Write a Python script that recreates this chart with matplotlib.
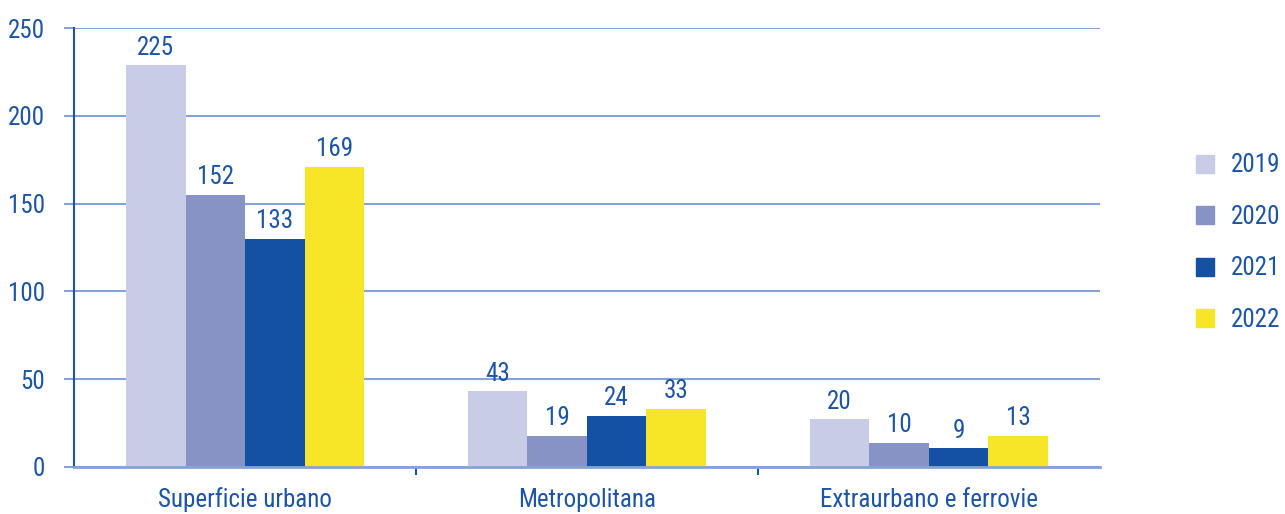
import matplotlib.pyplot as plt
import numpy as np
from matplotlib.patches import Patch

categories = ["Superficie urbano", "Metropolitana", "Extraurbano e ferrovie"]
years = ["2019", "2020", "2021", "2022"]
# bar heights as drawn in the picture
heights_2019 = [229, 43, 27]
heights_2020 = [155, 17.5, 13.5]
heights_2021 = [130, 29, 10.5]
heights_2022 = [171, 33, 17.5]
# numbers printed above the bars
labels_2019 = ["225", "43", "20"]
labels_2020 = ["152", "19", "10"]
labels_2021 = ["133", "24", "9"]
labels_2022 = ["169", "33", "13"]
yticks = [0, 50, 100, 150, 200, 250]

colors = ["#c8cce6", "#8793c5", "#1450a3", "#f7e627"]
text_col = "#1c54a6"
grid_col = "#85a4d6"

plt.rcParams['font.family'] = ['Roboto Condensed', 'DejaVu Sans']
plt.rcParams['font.stretch'] = 'condensed'
fs = 18

fig = plt.figure(figsize=(12.85, 5.14), dpi=100)
ax = fig.add_axes([0.0576, 0.092, 0.856 - 0.0576, 0.945 - 0.092])

heights = [heights_2019, heights_2020, heights_2021, heights_2022]
labels = [labels_2019, labels_2020, labels_2021, labels_2022]
x = np.arange(len(categories))
w = 0.174
for i in range(4):
    pos = x + (i - 1.5) * w
    ax.bar(pos, heights[i], width=w, color=colors[i], zorder=3, label=years[i])
    for p, h, t in zip(pos, heights[i], labels[i]):
        ax.annotate(t, (p, h), xytext=(0, 4), textcoords="offset points",
                    ha="center", va="bottom", fontsize=fs, color=text_col)

ax.set_xlim(-0.5, 2.5)
ax.set_ylim(0, 250)
ax.set_yticks(yticks)
ax.yaxis.grid(True, color=grid_col, linewidth=1.5, zorder=0)
ax.tick_params(axis="y", length=7, width=1.5, color=grid_col, pad=14,
               labelsize=fs, labelcolor=text_col)
ax.set_xticks(x)
ax.set_xticklabels(categories)
ax.tick_params(axis="x", which="major", length=0, pad=15, labelsize=fs, labelcolor=text_col)
ax.set_xticks([0.5, 1.5], minor=True)
ax.tick_params(axis="x", which="minor", length=6, width=1.5, color=text_col)

for s in ["top", "right"]:
    ax.spines[s].set_visible(False)
ax.spines["left"].set_color(text_col)
ax.spines["left"].set_linewidth(1.5)
ax.spines["bottom"].set_color(grid_col)
ax.spines["bottom"].set_linewidth(2)
ax.spines["bottom"].set_zorder(4)

handles = [Patch(color=c) for c in colors]
leg = fig.legend(handles, years, loc="center left", bbox_to_anchor=(0.913, 0.528),
                 frameon=False, fontsize=fs, handlelength=0.72, handleheight=0.72,
                 handletextpad=0.7, labelspacing=1.1)
for t in leg.get_texts():
    t.set_color(text_col)

fig.savefig("out.png", dpi=100)
